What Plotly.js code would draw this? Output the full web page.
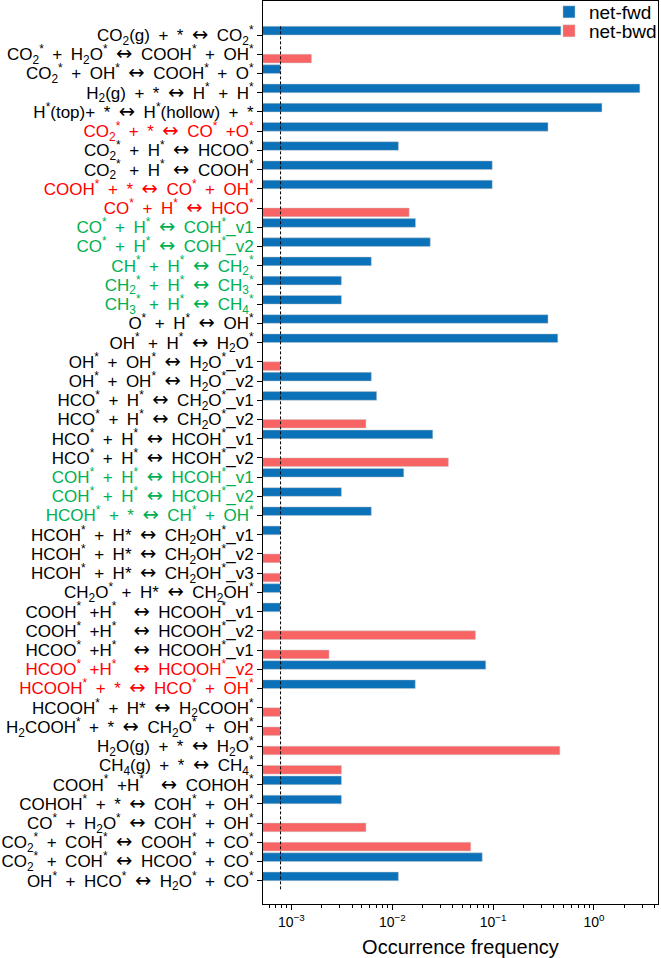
<!DOCTYPE html>
<html>
<head>
<meta charset="utf-8">
<script src="https://cdn.plot.ly/plotly-3.0.1.min.js"></script>
<style>html,body{margin:0;padding:0;background:#fff}#chart{width:661px;height:958px}</style>
</head>
<body>
<div id="chart"></div>
<script>
// ---- data ----
var categories = [
  "CO2(g) + * <-> CO2*",
  "CO2* + H2O* <-> COOH* + OH*",
  "CO2* + OH* <-> COOH* + O*",
  "H2(g) + * <-> H* + H*",
  "H*(top) + * <-> H*(hollow) + *",
  "CO2* + * <-> CO* + O*",
  "CO2* + H* <-> HCOO*",
  "CO2* + H* <-> COOH*",
  "COOH* + * <-> CO* + OH*",
  "CO* + H* <-> HCO*",
  "CO* + H* <-> COH*_v1",
  "CO* + H* <-> COH*_v2",
  "CH* + H* <-> CH2*",
  "CH2* + H* <-> CH3*",
  "CH3* + H* <-> CH4*",
  "O* + H* <-> OH*",
  "OH* + H* <-> H2O*",
  "OH* + OH* <-> H2O*_v1",
  "OH* + OH* <-> H2O*_v2",
  "HCO* + H* <-> CH2O*_v1",
  "HCO* + H* <-> CH2O*_v2",
  "HCO* + H* <-> HCOH*_v1",
  "HCO* + H* <-> HCOH*_v2",
  "COH* + H* <-> HCOH*_v1",
  "COH* + H* <-> HCOH*_v2",
  "HCOH* + * <-> CH* + OH*",
  "HCOH* + H* <-> CH2OH*_v1",
  "HCOH* + H* <-> CH2OH*_v2",
  "HCOH* + H* <-> CH2OH*_v3",
  "CH2O* + H* <-> CH2OH*",
  "COOH* + H* <-> HCOOH*_v1",
  "COOH* + H* <-> HCOOH*_v2",
  "HCOO* + H* <-> HCOOH*_v1",
  "HCOO* + H* <-> HCOOH*_v2",
  "HCOOH* + * <-> HCO* + OH*",
  "HCOOH* + H* <-> H2COOH*",
  "H2COOH* + * <-> CH2O* + OH*",
  "H2O(g) + * <-> H2O*",
  "CH4(g) + * <-> CH4*",
  "COOH* + H* <-> COHOH*",
  "COHOH* + * <-> COH* + OH*",
  "CO* + H2O* <-> COH* + OH*",
  "CO2* + COH* <-> COOH* + CO*",
  "CO2* + COH* <-> HCOO* + CO*",
  "OH* + HCO* <-> H2O* + CO*"
];

var tickLabels = [
  "CO<sub>2</sub>(g) + * ↔ CO<sub>2</sub><sup>*</sup>",
  "CO<sub>2</sub><sup>*</sup> + H<sub>2</sub>O<sup>*</sup> ↔ COOH<sup>*</sup> + OH<sup>*</sup>",
  "CO<sub>2</sub><sup>*</sup> + OH<sup>*</sup> ↔ COOH<sup>*</sup> + O<sup>*</sup>",
  "H<sub>2</sub>(g) + * ↔ H<sup>*</sup> + H<sup>*</sup>",
  "H<sup>*</sup>(top)+ * ↔ H<sup>*</sup>(hollow) + *",
  "CO<sub>2</sub><sup>*</sup> + * ↔ CO<sup>*</sup> +O<sup>*</sup>",
  "CO<sub>2</sub><sup>*</sup> + H<sup>*</sup> ↔ HCOO<sup>*</sup>",
  "CO<sub>2</sub><sup>*</sup> + H<sup>*</sup> ↔ COOH<sup>*</sup>",
  "COOH<sup>*</sup> + * ↔ CO<sup>*</sup> + OH<sup>*</sup>",
  "CO<sup>*</sup> + H<sup>*</sup> ↔ HCO<sup>*</sup>",
  "CO<sup>*</sup> + H<sup>*</sup> ↔ COH<sup>*</sup>_v1",
  "CO<sup>*</sup> + H<sup>*</sup> ↔ COH<sup>*</sup>_v2",
  "CH<sup>*</sup> + H<sup>*</sup> ↔ CH<sub>2</sub><sup>*</sup>",
  "CH<sub>2</sub><sup>*</sup> + H<sup>*</sup> ↔ CH<sub>3</sub><sup>*</sup>",
  "CH<sub>3</sub><sup>*</sup> + H<sup>*</sup> ↔ CH<sub>4</sub><sup>*</sup>",
  "O<sup>*</sup> + H<sup>*</sup> ↔ OH<sup>*</sup>",
  "OH<sup>*</sup> + H<sup>*</sup> ↔ H<sub>2</sub>O<sup>*</sup>",
  "OH<sup>*</sup> + OH<sup>*</sup> ↔ H<sub>2</sub>O<sup>*</sup>_v1",
  "OH<sup>*</sup> + OH<sup>*</sup> ↔ H<sub>2</sub>O<sup>*</sup>_v2",
  "HCO<sup>*</sup> + H<sup>*</sup> ↔ CH<sub>2</sub>O<sup>*</sup>_v1",
  "HCO<sup>*</sup> + H<sup>*</sup> ↔ CH<sub>2</sub>O<sup>*</sup>_v2",
  "HCO<sup>*</sup> + H<sup>*</sup> ↔ HCOH<sup>*</sup>_v1",
  "HCO<sup>*</sup> + H<sup>*</sup> ↔ HCOH<sup>*</sup>_v2",
  "COH<sup>*</sup> + H<sup>*</sup> ↔ HCOH<sup>*</sup>_v1",
  "COH<sup>*</sup> + H<sup>*</sup> ↔ HCOH<sup>*</sup>_v2",
  "HCOH<sup>*</sup> + * ↔ CH<sup>*</sup> + OH<sup>*</sup>",
  "HCOH<sup>*</sup> + H* ↔ CH<sub>2</sub>OH<sup>*</sup>_v1",
  "HCOH<sup>*</sup> + H* ↔ CH<sub>2</sub>OH<sup>*</sup>_v2",
  "HCOH<sup>*</sup> + H* ↔ CH<sub>2</sub>OH<sup>*</sup>_v3",
  "CH<sub>2</sub>O<sup>*</sup> + H* ↔ CH<sub>2</sub>OH<sup>*</sup>",
  "COOH<sup>*</sup> +H<sup>*</sup>  ↔ HCOOH<sup>*</sup>_v1",
  "COOH<sup>*</sup> +H<sup>*</sup>  ↔ HCOOH<sup>*</sup>_v2",
  "HCOO<sup>*</sup> +H<sup>*</sup>  ↔ HCOOH<sup>*</sup>_v1",
  "HCOO<sup>*</sup> +H<sup>*</sup>  ↔ HCOOH<sup>*</sup>_v2",
  "HCOOH<sup>*</sup> + * ↔ HCO<sup>*</sup> + OH<sup>*</sup>",
  "HCOOH<sup>*</sup> + H* ↔ H<sub>2</sub>COOH<sup>*</sup>",
  "H<sub>2</sub>COOH<sup>*</sup> + * ↔ CH<sub>2</sub>O<sup>*</sup> + OH<sup>*</sup>",
  "H<sub>2</sub>O(g) + * ↔ H<sub>2</sub>O<sup>*</sup>",
  "CH<sub>4</sub>(g) + * ↔ CH<sub>4</sub><sup>*</sup>",
  "COOH<sup>*</sup> +H<sup>*</sup>  ↔ COHOH<sup>*</sup>",
  "COHOH<sup>*</sup> + * ↔ COH<sup>*</sup> + OH<sup>*</sup>",
  "CO<sup>*</sup> + H<sub>2</sub>O<sup>*</sup> ↔ COH<sup>*</sup> + OH<sup>*</sup>",
  "CO<sub>2</sub><sup>*</sup> + COH<sup>*</sup> ↔ COOH<sup>*</sup> + CO<sup>*</sup>",
  "CO<sub>2</sub><sup>*</sup> + COH<sup>*</sup> ↔ HCOO<sup>*</sup> + CO<sup>*</sup>",
  "OH<sup>*</sup> + HCO<sup>*</sup> ↔ H<sub>2</sub>O<sup>*</sup> + CO<sup>*</sup>"
];

// label colour group: k = black, r = red, g = green
var labelGroups = [
  "k","k","k","k","k","r","k","k","r","r",
  "g","g","g","g","g","k","k","k","k","k",
  "k","k","k","g","g","g","k","k","k","k",
  "k","k","k","r","r","k","k","k","k","k",
  "k","k","k","k","k"
];

var netFwd = [
  0.47, null, 0.00078, 2.85, 1.2, 0.35, 0.0115, 0.098, 0.098, null,
  0.017, 0.0238, 0.0062, 0.00313, 0.00313, 0.35, 0.438, null, 0.0062, 0.007,
  null, 0.0252, null, 0.013, 0.00313, 0.0062, 0.00078, null, null, 0.00078,
  0.00078, null, null, 0.0845, 0.0169, null, null, null, null, 0.00313,
  0.00313, null, null, 0.078, 0.0115
];

var netBwd = [
  null, 0.00158, null, null, null, null, null, null, null, 0.0147,
  null, null, null, null, null, null, null, 0.00078, null, null,
  0.00548, null, 0.036, null, null, null, null, 0.00078, 0.00078, null,
  null, 0.0668, 0.00236, null, null, 0.00078, 0.00078, 0.459, 0.00313, null,
  null, 0.00548, 0.06, null, null
];

var threshold = 0.00078;   // dashed reference line (one event)

var xTickVals = [0.001, 0.01, 0.1, 1];
var xTickText = ["10<sup>−3</sup>", "10<sup>−2</sup>", "10<sup>−1</sup>", "10<sup>0</sup>"];
var xMinorVals = [5e-4, 6e-4, 7e-4, 8e-4, 9e-4,
  2e-3, 3e-3, 4e-3, 5e-3, 6e-3, 7e-3, 8e-3, 9e-3,
  0.02, 0.03, 0.04, 0.05, 0.06, 0.07, 0.08, 0.09,
  0.2, 0.3, 0.4, 0.5, 0.6, 0.7, 0.8, 0.9,
  2, 3, 4];

// ---- styles ----
var colorFwd = "#0b72b9";
var colorBwd = "#f86464";
var groupColor = {k: "#000000", r: "#ff0000", g: "#00b050"};
var FONT = "Liberation Sans, Arial, sans-serif";

var ticktext = tickLabels.map(function (t, i) {
  var s = t.replace(/ /g, "\u2002")
           .replace("↔", '<span style="font-family:DejaVu Sans;font-size:19.5px">↔</span>');
  return '<span style="color:' + groupColor[labelGroups[i]] + '">' + s + '</span>';
});

var traces = [
  {
    type: "bar", orientation: "h", name: "net-fwd",
    y: categories, x: netFwd, legend: "legend",
    marker: {color: colorFwd, line: {color: "rgba(200,200,200,0.8)", width: 0.6}},
    hoverinfo: "x+y"
  },
  {
    type: "bar", orientation: "h", name: "net-bwd",
    y: categories, x: netBwd, legend: "legend2",
    marker: {color: colorBwd, line: {color: "rgba(200,200,200,0.8)", width: 0.6}},
    hoverinfo: "x+y"
  }
];

var legendStyle = function (yMid) {
  return {
    x: 0.724, xanchor: "left", y: yMid, yanchor: "middle",
    bgcolor: "rgba(0,0,0,0)", borderwidth: 0,
    font: {family: FONT, size: 19, color: "#000"}
  };
};

var layout = {
  width: 661, height: 958,
  margin: {l: 263, r: 3, t: 1, b: 54, pad: 0, autoexpand: false},
  paper_bgcolor: "#ffffff", plot_bgcolor: "#ffffff",
  font: {family: FONT, color: "#000", size: 14},
  barmode: "group", bargap: 0.1, bargroupgap: 0,
  showlegend: true,
  legend: legendStyle(0.9878),
  legend2: legendStyle(0.9668),
  xaxis: {
    type: "log", range: [-3.282, 0.635], autorange: false,
    showgrid: false, zeroline: false,
    showline: true, mirror: true, linecolor: "#000", linewidth: 1,
    ticks: "outside", ticklen: 5, tickwidth: 1, tickcolor: "#000",
    tickmode: "array", tickvals: xTickVals, ticktext: xTickText,
    tickfont: {family: FONT, size: 14, color: "#000"},
    minor: {ticks: "outside", ticklen: 3, tickwidth: 1, tickcolor: "#000",
            tickmode: "array", tickvals: xMinorVals, showgrid: false},
    title: {text: "Occurrence frequency", font: {family: FONT, size: 20, color: "#000"}, standoff: 12}
  },
  yaxis: {
    type: "category", categoryorder: "array", categoryarray: categories,
    range: [45.21, -1.77], autorange: false,
    showgrid: false, zeroline: false,
    showline: true, mirror: true, linecolor: "#000", linewidth: 1,
    ticks: "outside", ticklen: 5, tickwidth: 1, tickcolor: "#000",
    tickmode: "array", tickvals: categories, ticktext: ticktext,
    tickfont: {family: FONT, size: 17, color: "#000"}
  },
  shapes: [{
    type: "line", xref: "x", yref: "y",
    x0: threshold, x1: threshold, y0: -0.45, y1: 44.5,
    line: {color: "#000", width: 1, dash: "3px,2px"}
  }]
};

Plotly.newPlot("chart", traces, layout, {displayModeBar: false, staticPlot: true});
</script>
</body>
</html>
